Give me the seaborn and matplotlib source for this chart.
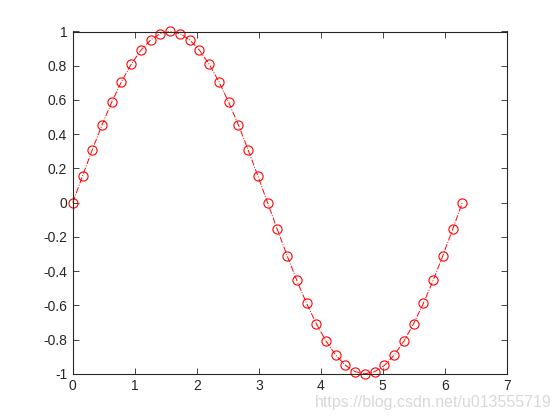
import matplotlib
matplotlib.use("Agg")
import matplotlib.pyplot as plt
import seaborn as sns
import pandas as pd

x_vals = [0.0, 0.1571, 0.3142, 0.4712, 0.6283, 0.7854, 0.9425, 1.0996, 1.2566, 1.4137,
          1.5708, 1.7279, 1.885, 2.042, 2.1991, 2.3562, 2.5133, 2.6704, 2.8274, 2.9845,
          3.1416, 3.2987, 3.4558, 3.6128, 3.7699, 3.927, 4.0841, 4.2412, 4.3982, 4.5553,
          4.7124, 4.8695, 5.0265, 5.1836, 5.3407, 5.4978, 5.6549, 5.8119, 5.969, 6.1261,
          6.2832]
y_vals = [0.0, 0.1564, 0.309, 0.454, 0.5878, 0.7071, 0.809, 0.891, 0.9511, 0.9877,
          1.0, 0.9877, 0.9511, 0.891, 0.809, 0.7071, 0.5878, 0.454, 0.309, 0.1564,
          0.0, -0.1564, -0.309, -0.454, -0.5878, -0.7071, -0.809, -0.891, -0.9511, -0.9877,
          -1.0, -0.9877, -0.9511, -0.891, -0.809, -0.7071, -0.5878, -0.454, -0.309, -0.1564,
          0.0]
x_ticks = [0, 1, 2, 3, 4, 5, 6, 7]
y_ticks = [-1, -0.8, -0.6, -0.4, -0.2, 0, 0.2, 0.4, 0.6, 0.8, 1]
y_tick_labels = ["-1", "-0.8", "-0.6", "-0.4", "-0.2", "0", "0.2", "0.4", "0.6", "0.8", "1"]

sns.set_style("white")
plt.rcParams['font.family'] = ['Liberation Sans', 'DejaVu Sans']

df = pd.DataFrame({"x": x_vals, "y": y_vals})

fig = plt.figure(figsize=(5.6, 4.2), dpi=100)
ax = fig.add_axes([0.13, 0.11, 0.775, 0.815])
sns.lineplot(data=df, x="x", y="y", ax=ax, color="red", linestyle="-.", linewidth=0.7,
             marker="o", markersize=6.6, markerfacecolor="none", markeredgecolor="red",
             markeredgewidth=0.8, sort=False)
for ln in ax.lines:
    ln.set_clip_on(False)

ax.set_xlim(0, 7)
ax.set_ylim(-1, 1)
ax.set_xticks(x_ticks)
ax.set_xticklabels([str(t) for t in x_ticks])
ax.set_yticks(y_ticks)
ax.set_yticklabels(y_tick_labels)
ax.set_xlabel("")
ax.set_ylabel("")
for s in ax.spines.values():
    s.set_visible(True)
    s.set_color("#262626")
    s.set_linewidth(0.8)
ax.tick_params(direction="in", length=4, width=0.6, colors="#262626", labelsize=10,
               top=True, right=True, bottom=True, left=True, pad=4)
for lab in ax.get_xticklabels() + ax.get_yticklabels():
    lab.set_color("#262626")

fig.text(0.985, 0.025, "https://blog.csdn.net/u013555719", ha="right", va="bottom",
         fontsize=11.5, color="#d8d8d8")

fig.savefig("out.png", dpi=100)
